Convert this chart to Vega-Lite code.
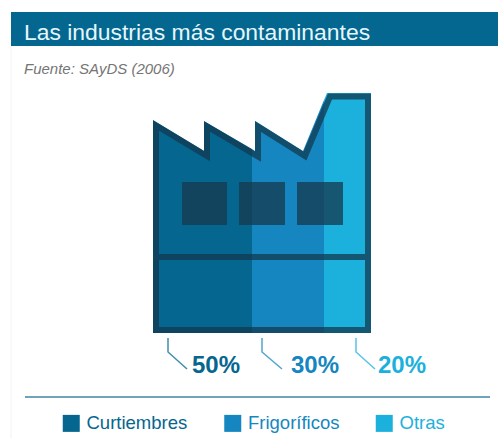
{
"$schema":"https://vega.github.io/schema/vega-lite/v6.json",
"width":498,"height":438,"padding":0,"autosize":"none","background":"#ffffff",
"title":{"text":"Las industrias más contaminantes","subtitle":"Fuente: SAyDS (2006)","anchor":"start","frame":"group","orient":"top","dx":24,"offset":-95,"baseline":"alphabetic","zindex":1,"font":"Liberation Sans","fontSize":22.9,"fontWeight":"normal","color":"#e6f6fb","subtitleFont":"Liberation Sans","subtitleFontSize":15,"subtitleFontStyle":"italic","subtitleColor":"#757575","subtitlePadding":11},
"config":{"view":{"stroke":null}},
"datasets":{
"header":[{"x":11,"x2":498,"y":12,"y2":46}],
"frame":[{"x":11,"y":46,"y2":438}],
"silhouette":[
{"sector":"Curtiembres","x":153,"top":120,"base":333},
{"sector":"Curtiembres","x":204,"top":151,"base":333},
{"sector":"Curtiembres","x":204,"top":121,"base":333},
{"sector":"Curtiembres","x":252,"top":149,"base":333},
{"sector":"Frigoríficos","x":252,"top":149,"base":333},
{"sector":"Frigoríficos","x":255,"top":151,"base":333},
{"sector":"Frigoríficos","x":255,"top":121,"base":333},
{"sector":"Frigoríficos","x":303,"top":151,"base":333},
{"sector":"Frigoríficos","x":324,"top":100,"base":333},
{"sector":"Otras","x":324,"top":100,"base":333},
{"sector":"Otras","x":327,"top":93,"base":333},
{"sector":"Otras","x":371,"top":93,"base":333}],
"outline":[
{"seq":1,"x":260,"y":330},{"seq":2,"x":156,"y":330},{"seq":3,"x":156,"y":125.5},{"seq":4,"x":207,"y":156},{"seq":5,"x":207,"y":126.5},{"seq":6,"x":258,"y":156.5},{"seq":7,"x":258,"y":126.5},{"seq":8,"x":305,"y":156},{"seq":9,"x":330,"y":96.5},{"seq":10,"x":368,"y":96.5},{"seq":11,"x":368,"y":330},{"seq":12,"x":260,"y":330}],
"band":[{"x":159,"x2":365,"y":257}],
"windows":[{"x":182,"x2":227,"y":182,"y2":225},{"x":239,"x2":285,"y":182,"y2":225},{"x":297,"x2":343,"y":182,"y2":225}],
"leaders":[
{"sector":"Curtiembres","seq":1,"x":168,"y":338},{"sector":"Curtiembres","seq":2,"x":168,"y":352},{"sector":"Curtiembres","seq":3,"x":187,"y":369},
{"sector":"Frigoríficos","seq":1,"x":262,"y":338},{"sector":"Frigoríficos","seq":2,"x":262,"y":352},{"sector":"Frigoríficos","seq":3,"x":282,"y":369},
{"sector":"Otras","seq":1,"x":356,"y":338},{"sector":"Otras","seq":2,"x":356,"y":352},{"sector":"Otras","seq":3,"x":375,"y":369}],
"labels":[{"sector":"Curtiembres","share":0.5,"x":192,"y":373},{"sector":"Frigoríficos","share":0.3,"x":291,"y":373},{"sector":"Otras","share":0.2,"x":378,"y":373}],
"divider":[{"x":25,"x2":490,"y":397}]
},
"layer":[
{"data":{"name":"header"},"mark":{"type":"rect","color":"#04678f"},"encoding":{
"x":{"field":"x","type":"quantitative","scale":{"domain":[0,498],"nice":false,"zero":false},"axis":null},"x2":{"field":"x2"},
"y":{"field":"y","type":"quantitative","scale":{"domain":[438,0],"nice":false,"zero":false},"axis":null},"y2":{"field":"y2"}}},
{"data":{"name":"frame"},"mark":{"type":"rule","color":"#f0f2f3","strokeWidth":1},"encoding":{
"x":{"field":"x","type":"quantitative"},"y":{"field":"y","type":"quantitative"},"y2":{"field":"y2"}}},
{"data":{"name":"silhouette"},"mark":{"type":"area","opacity":1},"encoding":{
"x":{"field":"x","type":"quantitative"},"y":{"field":"top","type":"quantitative"},"y2":{"field":"base"},
"color":{"field":"sector","type":"nominal","scale":{"domain":["Curtiembres","Frigoríficos","Otras"],"range":["#05668f","#1586c0","#1cb0dc"]},
"legend":{"title":null,"orient":"none","legendX":62,"legendY":414,"direction":"horizontal","columns":3,"columnPadding":35.5,"symbolType":"square","symbolSize":289,"symbolStrokeWidth":0,"labelFont":"Liberation Sans","labelFontSize":18.5,"labelOffset":6,"padding":0,"labelColor":{"expr":"scale('color', datum.value)"}}}}},
{"data":{"name":"windows"},"mark":{"type":"rect","color":"#163a50","opacity":0.77},"encoding":{
"x":{"field":"x","type":"quantitative"},"x2":{"field":"x2"},"y":{"field":"y","type":"quantitative"},"y2":{"field":"y2"}}},
{"data":{"name":"band"},"mark":{"type":"rule","color":"#123a50","opacity":0.75,"strokeWidth":6},"encoding":{
"x":{"field":"x","type":"quantitative"},"x2":{"field":"x2"},"y":{"field":"y","type":"quantitative"}}},
{"data":{"name":"outline"},"mark":{"type":"line","color":"#123a50","opacity":0.75,"strokeWidth":6,"strokeJoin":"miter","strokeMiterLimit":10},"encoding":{
"x":{"field":"x","type":"quantitative"},"y":{"field":"y","type":"quantitative"},"order":{"field":"seq","type":"quantitative"}}},
{"data":{"name":"leaders"},"mark":{"type":"line","strokeWidth":1.5,"opacity":0.75},"encoding":{
"x":{"field":"x","type":"quantitative"},"y":{"field":"y","type":"quantitative"},"order":{"field":"seq","type":"quantitative"},"color":{"field":"sector","type":"nominal","legend":null}}},
{"data":{"name":"labels"},"mark":{"type":"text","align":"left","baseline":"alphabetic","font":"Liberation Sans","fontSize":24,"fontWeight":"bold"},"encoding":{
"x":{"field":"x","type":"quantitative"},"y":{"field":"y","type":"quantitative"},"text":{"field":"share","type":"quantitative","format":".0%"},"color":{"field":"sector","type":"nominal","legend":null}}},
{"data":{"name":"divider"},"mark":{"type":"rule","color":"#6fa3bb","strokeWidth":2},"encoding":{
"x":{"field":"x","type":"quantitative"},"x2":{"field":"x2"},"y":{"field":"y","type":"quantitative"}}}
]
}
